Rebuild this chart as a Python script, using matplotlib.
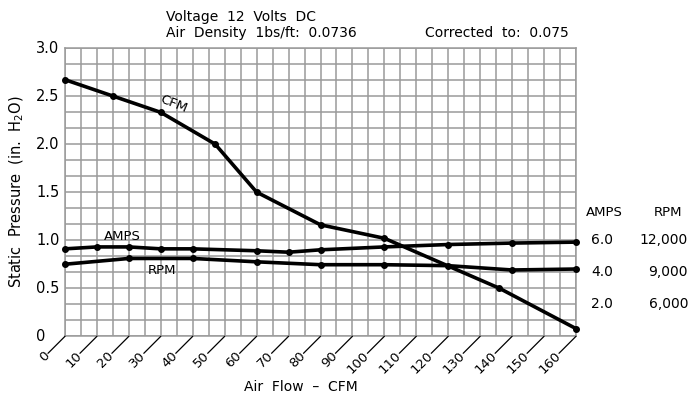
import numpy as np
import matplotlib
matplotlib.use("Agg")
import matplotlib.pyplot as plt
from matplotlib.transforms import blended_transform_factory

# ---- data ----
cfm_x = [0, 15, 30, 47, 60, 80, 100, 136, 160]
cfm_y = [2.67, 2.50, 2.33, 2.00, 1.50, 1.16, 1.02, 0.50, 0.08]

amps_x = [0, 10, 20, 30, 40, 60, 70, 80, 100, 120, 140, 160]
amps_y = [0.91, 0.93, 0.93, 0.91, 0.91, 0.89, 0.875, 0.90, 0.93, 0.955, 0.97, 0.98]

rpm_x = [0, 20, 40, 60, 80, 100, 120, 140, 160]
rpm_y = [0.75, 0.81, 0.81, 0.775, 0.745, 0.745, 0.735, 0.69, 0.70]

x_tick_vals = list(range(0, 161, 10))
y_tick_vals = [0, 0.5, 1.0, 1.5, 2.0, 2.5, 3.0]
y_tick_labels = ["0", "0.5", "1.0", "1.5", "2.0", "2.5", "3.0"]

right_pos = [1.0, 2 / 3, 1 / 3]
amps_labels = ["6.0", "4.0", "2.0"]
rpm_labels = ["12,000", "9,000", "6,000"]

W, H = 691, 396
fig = plt.figure(figsize=(W / 100, H / 100), dpi=100)
L, R, T, B = 65, 576, 48, 336.3
ax = fig.add_axes([L / W, (H - B) / H, (R - L) / W, (B - T) / H])

grid_c = "#9a9a9a"
ax.set_xlim(0, 160)
ax.set_ylim(0, 3.0)
ax.set_xticks(np.arange(0, 160.1, 5))
ax.set_yticks(np.linspace(0, 3.0, 19))
ax.tick_params(length=0, labelbottom=False, labelleft=False)
ax.grid(True, color=grid_c, lw=1.1)
for s in ax.spines.values():
    s.set_color(grid_c)
    s.set_linewidth(1.1)

lw = 2.6
for xs, ys in [(cfm_x, cfm_y), (amps_x, amps_y), (rpm_x, rpm_y)]:
    ax.plot(xs, ys, color="black", lw=lw, marker="o", ms=4, zorder=5,
            solid_joinstyle="round", clip_on=False)

fs = 9.5
# diagonal x ticks and labels
for v in x_tick_vals:
    ax.annotate("", xy=(v, 0), xytext=(-17, -17), textcoords="offset pixels",
                arrowprops=dict(arrowstyle="-", color="black", lw=0.9,
                                shrinkA=0, shrinkB=0),
                annotation_clip=False)
    ax.annotate(str(v), xy=(v, 0), xytext=(-17, -17), textcoords="offset pixels",
                rotation=45, ha="right", va="center", rotation_mode="anchor",
                fontsize=9.5, annotation_clip=False)

# y tick labels (left aligned)
tr = blended_transform_factory(fig.transFigure, ax.transData)
for v, lab in zip(y_tick_vals, y_tick_labels):
    ax.text(36 / W, v, lab, transform=tr, ha="left", va="center", fontsize=10.5)

# right side AMPS / RPM scales
fig.text(604 / W, 1 - 213 / H, "AMPS", ha="center", va="center", fontsize=9.5)
fig.text(668 / W, 1 - 213 / H, "RPM", ha="center", va="center", fontsize=9.5)
for p, a, r in zip(right_pos, amps_labels, rpm_labels):
    ax.text(602 / W, p, a, transform=tr, ha="center", va="center", fontsize=10)
    ax.text(688 / W, p, r, transform=tr, ha="right", va="center", fontsize=10)

# curve labels
ax.text(34, 2.42, "CFM", rotation=-22, ha="center", va="center", fontsize=9.5)
ax.text(18, 1.04, "AMPS", ha="center", va="center", fontsize=9.5)
ax.text(30.5, 0.68, "RPM", ha="center", va="center", fontsize=9.5)

# header texts
fig.text(166 / W, 1 - 17 / H, "Voltage  12  Volts  DC", ha="left", va="center", fontsize=10)
fig.text(166 / W, 1 - 33 / H, "Air  Density  1bs/ft:  0.0736", ha="left", va="center", fontsize=10)
fig.text(569 / W, 1 - 33 / H, "Corrected  to:  0.075", ha="right", va="center", fontsize=10)

# axis titles
fig.text(301 / W, 1 - 387 / H, "Air  Flow  \u2013  CFM", ha="center", va="center", fontsize=10)
fig.text(17 / W, 1 - 192 / H, "Static  Pressure  (in.  H$_2$O)", rotation=90,
         ha="center", va="center", fontsize=10.5)

fig.savefig("out.png", dpi=100)
